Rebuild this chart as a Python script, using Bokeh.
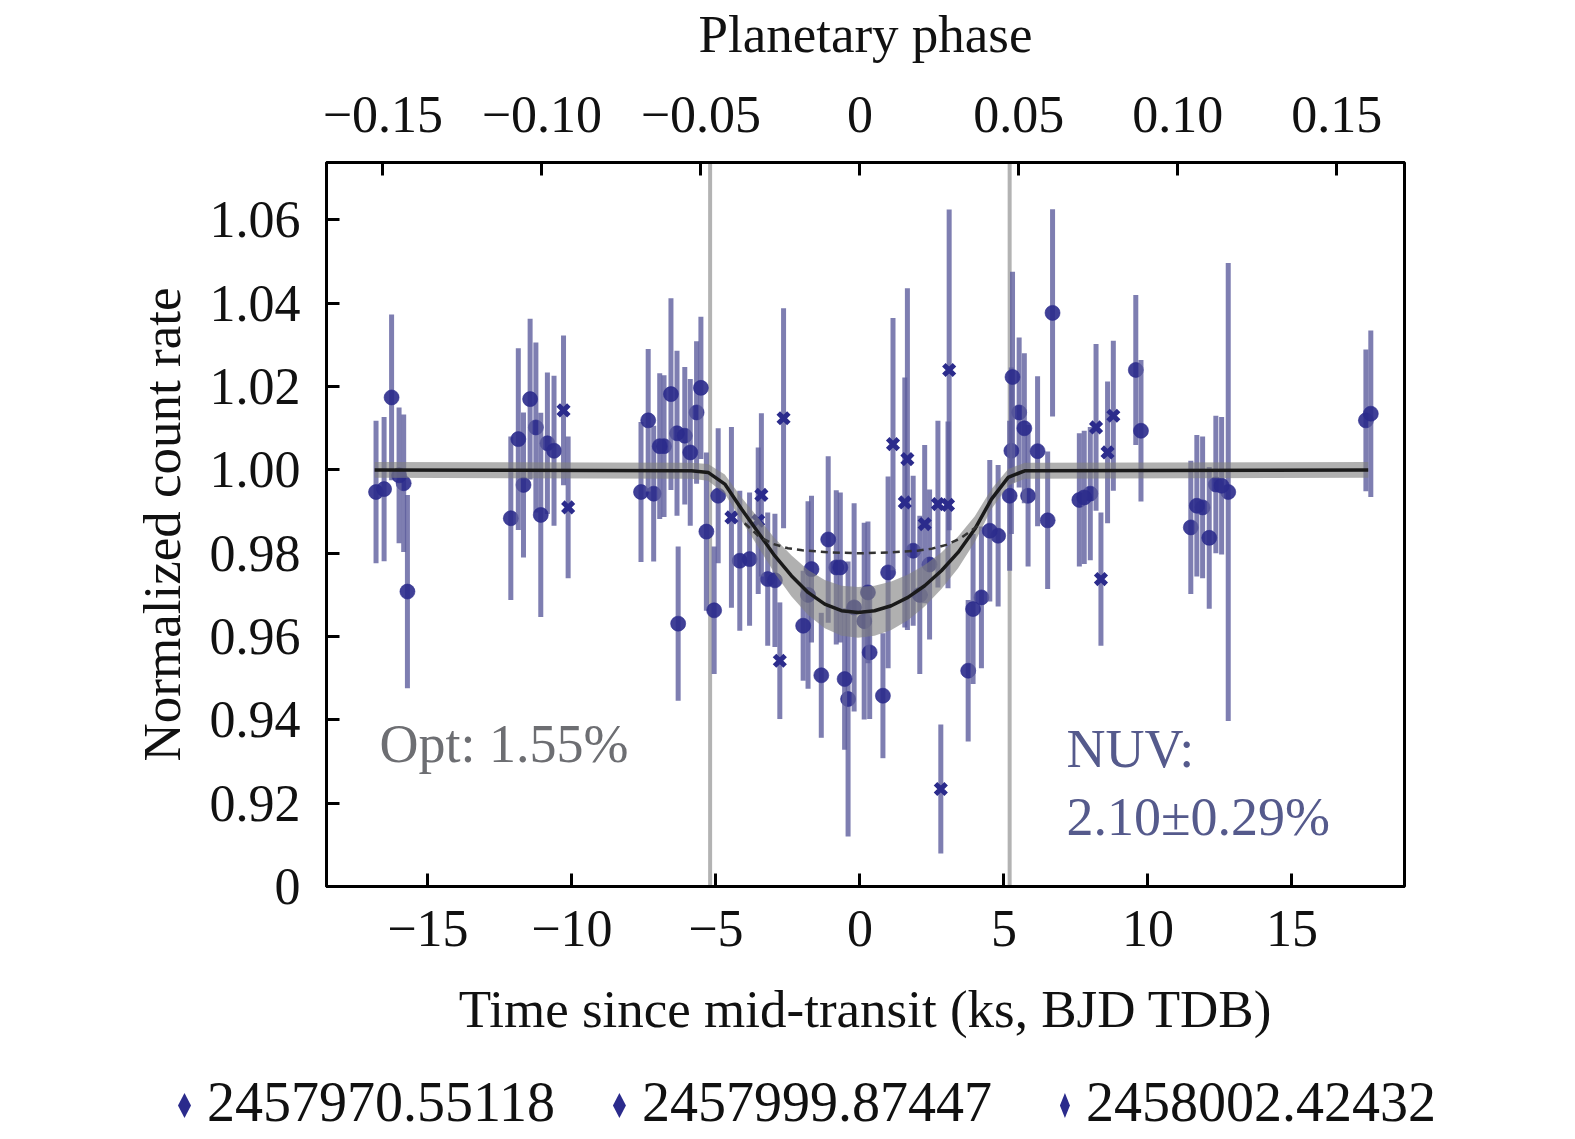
from bokeh.plotting import figure
from bokeh.layouts import column
from bokeh.models import (Range1d, LinearAxis, FixedTicker, Span, Label, Div,
                          ColumnDataSource)
from bokeh.embed import file_html
from bokeh.resources import INLINE

# ---------------- data ----------------
# series 1: 2457970.55118
s1_t = [-16.80, -16.26, -15.84, -12.12, -11.68, -11.25, -10.85, -7.60, -7.16, -6.80,
        -6.35, -6.08, -5.67, -5.33, -4.92, -4.17, -3.20, -1.80, -1.68, -1.34,
        -0.82, -0.41, 0.15, 0.34, 0.98, 1.85, 3.76, 4.22, 4.80, 5.26,
        5.53, 5.84, 6.52, 7.62, 8.00, 9.58, 11.49, 11.90, 12.36, 12.79, 17.57]
s1_v = [0.9947, 1.0174, 0.9968, 0.9884, 0.9964, 1.0102, 1.0064, 0.9947, 0.9943, 1.0057,
        1.0088, 1.0082, 1.0138, 0.9852, 0.9938, 0.9782, 0.9738, 0.9700, 0.9762, 0.9507,
        0.9766, 0.9450, 0.9637, 0.9562, 0.9754, 0.9806, 0.9518, 0.9694, 0.9842, 1.0046,
        1.0138, 0.9938, 0.9879, 0.9928, 0.9943, 1.0240, 0.9862, 0.9910, 0.9965, 0.9947, 1.0119]
s1_e = [0.0171, 0.0199, 0.0165, 0.0196, 0.0174, 0.0204, 0.0170, 0.0168, 0.0163, 0.0170,
        0.0198, 0.0165, 0.0171, 0.0190, 0.0162, 0.0168, 0.0160, 0.0225, 0.0176, 0.0150,
        0.0185, 0.0330, 0.0236, 0.0160, 0.0230, 0.0180, 0.0170, 0.0170, 0.0170, 0.0200,
        0.0180, 0.0170, 0.0165, 0.0160, 0.0160, 0.0180, 0.0160, 0.0170, 0.0165, 0.0550, 0.0170]

# series 2: 2457999.87447
s2_t = [-16.52, -16.00, -15.71, -11.86, -11.45, -11.08, -10.62, -7.35, -6.95, -6.56,
        -6.31, -5.89, -5.52, -5.06, -3.83, -2.95, -1.97, -1.10, -0.68, -0.53,
        -0.20, 0.28, 0.80, 2.08, 2.42, 3.93, 4.51, 5.20, 5.30, 5.71,
        6.17, 6.69, 7.79, 9.76, 11.70, 12.13, 12.56, 17.74]
s2_v = [0.9954, 0.9987, 0.9708, 1.0074, 1.0170, 0.9892, 1.0046, 1.0119, 1.0057, 1.0182,
        0.9631, 1.0042, 1.0197, 0.9663, 0.9786, 0.9735, 0.9626, 0.9833, 0.9766, 0.9498,
        0.9670, 0.9706, 0.9458, 0.9700, 0.9773, 0.9666, 0.9854, 0.9938, 1.0223, 1.0100,
        1.0045, 1.0377, 0.9934, 1.0094, 0.9914, 0.9837, 0.9962, 1.0135]
s2_e = [0.0173, 0.0163, 0.0232, 0.0218, 0.0193, 0.0245, 0.0180, 0.0171, 0.0175, 0.0230,
        0.0185, 0.0176, 0.0171, 0.0153, 0.0160, 0.0160, 0.0132, 0.0200, 0.0180, 0.0170,
        0.0250, 0.0170, 0.0150, 0.0190, 0.0180, 0.0180, 0.0170, 0.0180, 0.0253, 0.0180,
        0.0180, 0.0249, 0.0160, 0.0170, 0.0170, 0.0170, 0.0165, 0.0200]

# series 3: 2458002.42432
s3_t = [-10.29, -10.13, -4.46, -3.53, -3.42, -2.78, -2.65, 1.15, 1.56, 1.65,
        2.25, 2.71, 2.81, 3.06, 3.10, 8.20, 8.37, 8.60, 8.80]
s3_v = [1.0143, 0.9910, 0.9886, 0.9878, 0.9940, 0.9542, 1.0124, 1.0062, 0.9922, 1.0026,
        0.9870, 0.9918, 0.9234, 0.9916, 1.0240, 1.0102, 0.9738, 1.0042, 1.0130]
s3_e = [0.0180, 0.0170, 0.0217, 0.0176, 0.0196, 0.0140, 0.0264, 0.0303, 0.0300, 0.0410,
        0.0190, 0.0200, 0.0155, 0.0200, 0.0385, 0.0200, 0.0160, 0.0170, 0.0180]

series_labels = ["2457970.55118", "2457999.87447", "2458002.42432"]

# NUV transit model (solid) with its uncertainty band
model_t = [-16.85, -5.85, -5.27, -4.69, -4.11, -3.53, -2.96, -2.38, -1.80, -1.22, -0.64, -0.06,
           0.51, 1.09, 1.67, 2.25, 2.83, 3.41, 3.99, 4.57, 5.15, 5.72, 17.65]
model_v = [1.0000, 0.9998, 0.9994, 0.9966, 0.9906, 0.9850, 0.9794, 0.9746, 0.9706, 0.9678, 0.9662, 0.9658,
           0.9662, 0.9674, 0.9694, 0.9722, 0.9758, 0.9802, 0.9858, 0.9930, 0.9982, 0.9998, 1.0000]
model_w = [0.0019, 0.0019, 0.0020, 0.0023, 0.0028, 0.0035, 0.0042, 0.0049, 0.0054, 0.0058, 0.0060, 0.0061,
           0.0060, 0.0058, 0.0055, 0.0050, 0.0044, 0.0038, 0.0031, 0.0024, 0.0020, 0.0019, 0.0019]

# optical-depth model (dashed)
opt_t = [-4.00, -3.50, -3.00, -2.50, -2.00, -1.00, 0.00, 1.00, 2.00, 2.50, 3.00, 3.50, 4.10]
opt_v = [0.9872, 0.9840, 0.9822, 0.9812, 0.9807, 0.9802, 0.9800, 0.9802, 0.9806, 0.9811, 0.9820, 0.9836, 0.9866]

transit_edges = [-5.2, 5.2]
period_ks = 110.4

x_ticks = [-15, -10, -5, 0, 5, 10, 15]
x_tick_labels = ["\u221215", "\u221210", "\u22125", "0", "5", "10", "15"]
phase_ticks = [-0.15, -0.10, -0.05, 0.0, 0.05, 0.10, 0.15]
phase_tick_labels = ["\u22120.15", "\u22120.10", "\u22120.05", "0", "0.05", "0.10", "0.15"]
y_ticks = [0.90, 0.92, 0.94, 0.96, 0.98, 1.00, 1.02, 1.04, 1.06]
y_tick_labels = ["0", "0.92", "0.94", "0.96", "0.98", "1.00", "1.02", "1.04", "1.06"]

# ---------------- style ----------------
FONT = "Liberation Serif"
NAVY = "#2b2b8c"
ERR = "#5e5e9e"

XMIN, XMAX = -18.52, 18.91

p = figure(frame_width=1078, frame_height=724,
           min_border_left=326, min_border_top=162, min_border_right=150, min_border_bottom=165,
           x_range=Range1d(XMIN, XMAX), y_range=Range1d(0.90, 1.0738),
           output_backend="svg", toolbar_location=None, background_fill_color="white",
           border_fill_color="white")
p.xgrid.visible = False
p.ygrid.visible = False
p.outline_line_color = "black"
p.outline_line_width = 3
p.outline_line_alpha = 1

bottom = p.below[0]
left = p.left[0]
p.extra_x_ranges = {"phase": Range1d(XMIN / period_ks, XMAX / period_ks)}
top = LinearAxis(x_range_name="phase")
p.add_layout(top, "above")


def style_axis(ax, ticks, labels, label_text, standoff, label_standoff):
    ax.ticker = FixedTicker(ticks=ticks)
    ax.major_label_overrides = dict(zip(ticks, labels))
    ax.minor_tick_line_color = None
    ax.major_tick_in = 13
    ax.major_tick_out = 0
    ax.major_tick_line_width = 3
    ax.major_tick_line_color = "black"
    ax.axis_line_width = 3
    ax.axis_line_color = "black"
    ax.major_label_text_font = FONT
    ax.major_label_text_font_size = "52px"
    ax.major_label_text_color = "#111111"
    ax.major_label_standoff = standoff
    ax.axis_label = label_text
    ax.axis_label_text_font = FONT
    ax.axis_label_text_font_size = "53px"
    ax.axis_label_text_font_style = "normal"
    ax.axis_label_text_color = "#111111"
    ax.axis_label_standoff = label_standoff


style_axis(bottom, x_ticks, x_tick_labels, "Time since mid-transit (ks, BJD TDB)", 24, 31)
style_axis(top, phase_ticks, phase_tick_labels, "Planetary phase", 31, 31)
style_axis(left, y_ticks, y_tick_labels, "Normalized count rate", 26, 16)

# transit contact lines
for edge in transit_edges:
    p.add_layout(Span(location=edge, dimension="height", line_color="#b3b3b3",
                      line_width=4, level="underlay"))

# data: error bars then markers
series = [(s1_t, s1_v, s1_e), (s2_t, s2_v, s2_e), (s3_t, s3_v, s3_e)]
for i, (t, v, e) in enumerate(series):
    src = ColumnDataSource(dict(t=t, v=v, lo=[a - b for a, b in zip(v, e)],
                                hi=[a + b for a, b in zip(v, e)]))
    p.segment(x0="t", y0="lo", x1="t", y1="hi", source=src, line_color=ERR,
              line_width=5, line_alpha=0.8)
    if i < 2:
        p.scatter(x="t", y="v", source=src, marker="circle", size=15,
                  fill_color=NAVY, line_color=NAVY, fill_alpha=0.9, line_alpha=0.6)
    else:
        p.scatter(x="t", y="v", source=src, marker="x", size=15,
                  line_color=NAVY, line_width=5)

# model band and curves
band = ColumnDataSource(dict(t=model_t, lo=[a - b for a, b in zip(model_v, model_w)],
                             hi=[a + b for a, b in zip(model_v, model_w)]))
p.varea(x="t", y1="lo", y2="hi", source=band, fill_color="#808080", fill_alpha=0.62)
p.line(model_t, model_v, line_color="#1a1a1a", line_width=3.5)
p.line(opt_t, opt_v, line_color="#333333", line_width=2.5, line_dash="7 5")

# annotations
p.add_layout(Label(x=-16.68, y=0.9342, text="Opt: 1.55%", text_font=FONT,
                   text_font_size="54px", text_color="#6d6e72", text_baseline="alphabetic"))
p.add_layout(Label(x=7.17, y=0.9329, text="NUV:", text_font=FONT,
                   text_font_size="54px", text_color="#555a8c", text_baseline="alphabetic"))
p.add_layout(Label(x=7.17, y=0.9168, text="2.10\u00b10.29%", text_font=FONT,
                   text_font_size="54px", text_color="#555a8c", text_baseline="alphabetic"))

# legend strip below the chart
icon_css = ("display:inline-block;height:25px;background:{c};"
            "clip-path:polygon(50% 0,100% 50%,50% 100%,0 50%);"
            "margin-right:16px;vertical-align:3px;width:{w}px;")
gaps = [58, 68, 0]
parts = []
for i, lab in enumerate(series_labels):
    w = 13 if i < 2 else 10
    parts.append('<span style="white-space:nowrap;margin-right:%dpx;"><span style="%s"></span>%s</span>'
                 % (gaps[i], icon_css.format(c=NAVY, w=w), lab))
html = ('<div style="font-family:\'Liberation Serif\',serif;font-size:56px;line-height:62px;'
        'color:#111111;white-space:nowrap;padding-left:178px;padding-top:20px;">'
        + "".join(parts) + "</div>")
legend_div = Div(text=html, width=1559, height=86, margin=(0, 0, 0, 0))

layout = column(p, legend_div, spacing=0)
open("out.html", "w").write(file_html(layout, INLINE))
